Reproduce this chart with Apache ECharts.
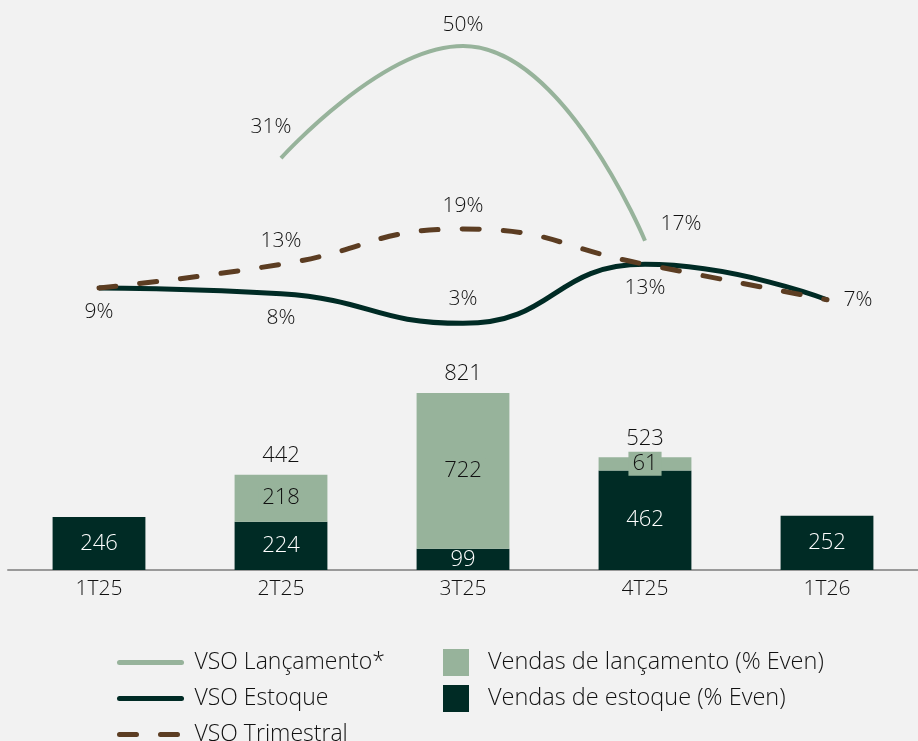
<!DOCTYPE html>
<html>
<head>
<meta charset="utf-8">
<script src="https://cdn.jsdelivr.net/npm/echarts@6/dist/echarts.min.js"></script>
<style>
    html, body { margin: 0; padding: 0; background: #f2f2f2; }
    #chart { width: 918px; height: 741px; }
</style>
</head>
<body>
<div id="chart"></div>
<script>
// dados
var categorias = ["1T25", "2T25", "3T25", "4T25", "1T26"];
var vendasEstoque = [246, 224, 99, 462, 252];
var vendasLancamento = [null, 218, 722, 61, null];
var vsoLancamento = [null, 31, 50, 17, null];
var vsoEstoque = [9, 8, 3, 13, 7];
var vsoTrimestral = [9, 13, 19, 13, 7];

var cor_escura = "#002b25",
    cor_clara = "#97b39b",
    cor_marrom = "#5c3d22",
    transparente = "rgba(0,0,0,0)",
    fonte = "'Open Sans', Lato, sans-serif",
    peso = 300;

// total das barras empilhadas (só onde tem lançamento)
var totais = vendasEstoque.map(function (v, i) {
    return vendasLancamento[i] == null ? null : v + vendasLancamento[i];
});

// posição dos rótulos das linhas
var posEstoque = ["bottom", "bottom", "top", "bottom", "right"];
var posLancamento = [null, [-10, -20], "top", [36, -6], null];

var chart = echarts.init(document.getElementById("chart"));

var rotulo = { color: "#111", fontSize: 21, formatter: "{c}%", fontFamily: fonte, fontWeight: peso, opacity: 1 };

var option = {
    backgroundColor: "#f2f2f2",
    textStyle: { fontFamily: fonte, fontWeight: peso },
    grid: {
        left: 8,
        right: -8,
        top: 0,
        bottom: 171
    },
    legend: [
        {
            left: 117,
            top: 649,
            padding: 0,
            height: 140,
            orient: "vertical",
            itemWidth: 62,
            itemHeight: 14,
            itemGap: 9,
            itemStyle: { opacity: 0 },
            lineStyle: { width: 5, cap: "round" },
            textStyle: { fontSize: 23, color: "#111", lineHeight: 27, fontFamily: fonte, fontWeight: peso, padding: [0, 0, 0, 8] },
            data: ["VSO Lançamento*", "VSO Estoque", "VSO Trimestral"]
        },
        {
            left: 443,
            top: 649,
            padding: 0,
            height: 140,
            orient: "vertical",
            icon: "rect",
            itemWidth: 26,
            itemHeight: 27,
            itemGap: 9,
            textStyle: { fontSize: 23.5, color: "#111", fontFamily: fonte, fontWeight: peso, padding: [0, 0, 0, 14] },
            data: ["Vendas de lançamento (% Even)", "Vendas de estoque (% Even)"]
        }
    ],
    xAxis: {
        type: "category",
        data: categorias,
        axisLine: { lineStyle: { color: "#9a9a9a", width: 2 } },
        axisTick: { show: false },
        axisLabel: { fontSize: 21, color: "#111", margin: 9, fontFamily: fonte, fontWeight: peso }
    },
    yAxis: [
        { type: "value", min: 0, max: 2644, show: false },
        { type: "value", min: -38.8, max: 57.8, show: false }
    ],
    series: [
        {
            name: "Vendas de estoque (% Even)",
            type: "bar",
            stack: "vendas",
            barWidth: "51%",
            itemStyle: { color: cor_escura },
            label: { show: true, position: "inside", color: "#fff", fontSize: 22, fontFamily: fonte, fontWeight: peso },
            data: vendasEstoque
        },
        {
            name: "Vendas de lançamento (% Even)",
            type: "bar",
            stack: "vendas",
            itemStyle: { color: cor_clara },
            label: {
                show: true, position: "inside", color: "#111", fontSize: 22, fontFamily: fonte, fontWeight: peso,
                backgroundColor: cor_clara, padding: [1, 4]
            },
            data: vendasLancamento
        },
        {
            name: "Total",
            type: "bar",
            barGap: "-100%",
            barWidth: "51%",
            itemStyle: { color: transparente },
            label: { show: true, position: "top", color: "#111", fontSize: 22, distance: 8, fontFamily: fonte, fontWeight: peso },
            z: 1,
            data: totais
        },
        {
            name: "VSO Lançamento*",
            type: "line",
            yAxisIndex: 1,
            smooth: 0.5,
            symbol: "circle",
            symbolSize: 1,
            lineStyle: { color: cor_clara, width: 4 },
            itemStyle: { color: transparente },
            data: vsoLancamento.map(function (v, i) {
                if (v == null) return null;
                var p = posLancamento[i];
                return {
                    value: v,
                    label: typeof p === "string"
                        ? { show: true, position: p, distance: 10 }
                        : { show: true, position: "top", distance: 0, offset: p }
                };
            }),
            label: rotulo
        },
        {
            name: "VSO Trimestral",
            type: "line",
            yAxisIndex: 1,
            smooth: 0.5,
            symbol: "circle",
            symbolSize: 1,
            z: 3,
            lineStyle: { color: cor_marrom, width: 5, type: [17, 24], cap: "round" },
            itemStyle: { color: transparente },
            data: vsoTrimestral.map(function (v, i) {
                return { value: v, label: { show: i === 1 || i === 2 } };
            }),
            label: echarts.util.extend({ position: "top", distance: 12 }, rotulo)
        },
        {
            name: "VSO Estoque",
            type: "line",
            yAxisIndex: 1,
            smooth: 0.5,
            symbol: "circle",
            symbolSize: 1,
            z: 2,
            lineStyle: { color: cor_escura, width: 5 },
            itemStyle: { color: transparente },
            data: vsoEstoque.map(function (v, i) {
                return {
                    value: v,
                    label: { show: true, position: posEstoque[i], distance: posEstoque[i] === "right" ? 16 : 13 }
                };
            }),
            label: rotulo
        }
    ]
};

chart.setOption(option);

window.addEventListener("resize", function () {
    chart.resize();
});
</script>
</body>
</html>
